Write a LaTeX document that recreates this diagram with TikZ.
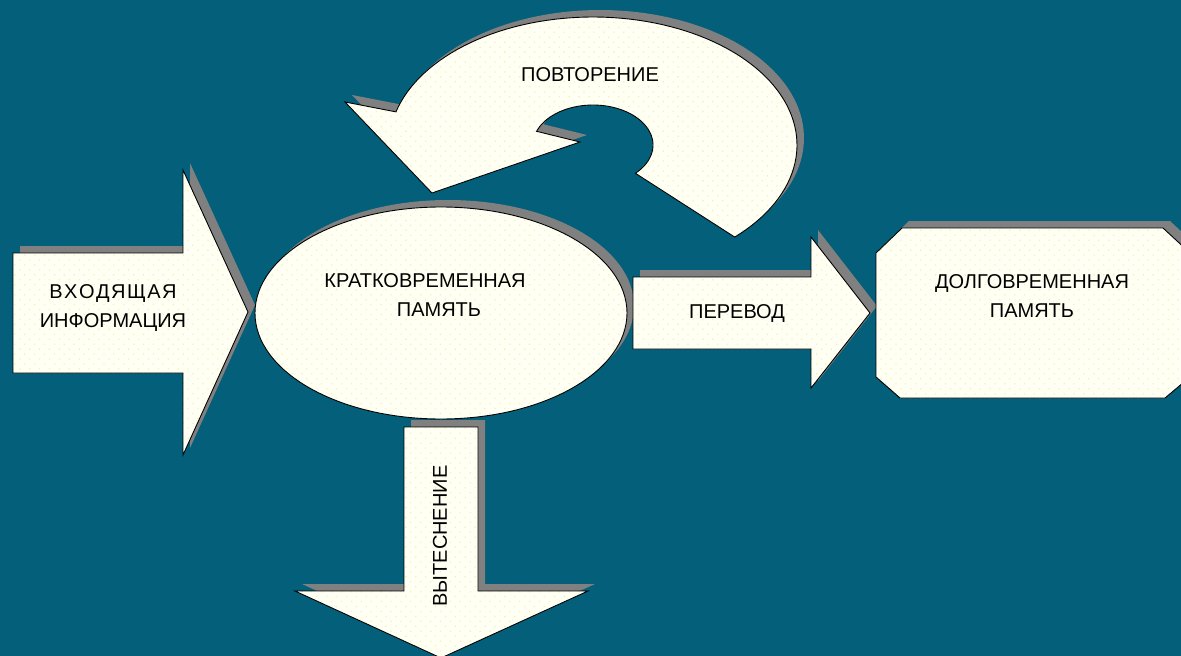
\documentclass[tikz,border=0pt]{standalone}
\usepackage{fontspec}
\setmainfont{Liberation Sans}
\usetikzlibrary{patterns.meta}
\definecolor{bg}{RGB}{3,95,122}
\definecolor{shapefill}{RGB}{255,255,244}
\definecolor{dotyellow}{RGB}{238,244,185}
\definecolor{shadowgray}{RGB}{128,128,128}

\begin{document}
\begin{tikzpicture}[x=1pt,y=-1pt,
  blob/.style={
    preaction={fill=shadowgray,transform canvas={shift={(7pt,7pt)}}},
    preaction={fill=shapefill},
    preaction={pattern={Dots[radius=0.9pt,distance=7pt,angle=45]},pattern color=dotyellow},
    draw=black, line width=0.9pt, line join=miter},
  txt/.style={font=\fontsize{20}{29}\selectfont, text=black, align=center, inner sep=0pt}]

% background and frame
\fill[bg] (0,0) rectangle (1181,656);
\useasboundingbox (0,0) rectangle (1181,656);
\clip (0,0) rectangle (1181,656);

% curved arrow (rehearsal loop)
\path[blob]
  plot[domain=-46:165, samples=90] ({593+204*cos(\x)}, {145-128*sin(\x)})
  -- (345,102) -- (432,193) -- (580,142)
  -- plot[domain=160:-45, samples=60] ({593+60*cos(\x)}, {145-40*sin(\x)})
  -- cycle;
\node[txt] (rep) at (590,75) {ПОВТОРЕНИЕ};

% incoming arrow
\path[blob] (13,253) -- (183,253) -- (183,170) -- (248,312) -- (183,455)
  -- (183,373) -- (13,373) -- cycle;
\node[txt] (inp) at (113,308) {В\kern1.5pt Х\kern1.5pt О\kern1.5pt Д\kern1.5pt Я\kern1.5pt Щ\kern1.5pt А\kern1.5pt Я\\ИНФОРМАЦИЯ};

% short-term memory
\path[blob] (441,313) ellipse [x radius=186pt, y radius=106pt];
\node[txt] (stm) at (439,295) {КРАТКОВРЕМЕННАЯ\hspace*{28pt}\\ПАМЯТЬ};

% transfer arrow
\path[blob] (633,277) -- (811,277) -- (811,237) -- (870,313) -- (811,388)
  -- (811,349) -- (633,349) -- cycle;
\node[txt] (tr) at (737,314) {ПЕРЕВОД};

% long-term memory
\path[blob] (902,228) -- (1163,228) -- (1190,253) -- (1190,377) -- (1165,398)
  -- (900,398) -- (876,377) -- (876,253) -- cycle;
\node[txt] (ltm) at (1032,296) {ДОЛГОВРЕМЕННАЯ\\ПАМЯТЬ};

% displacement arrow
\path[blob] (404,427) -- (478,427) -- (478,591) -- (588,591) -- (441,658)
  -- (295,591) -- (404,591) -- cycle;
\node[txt, rotate=90] (disp) at (440,536) {ВЫТЕСНЕНИЕ};
\end{tikzpicture}
\end{document}
